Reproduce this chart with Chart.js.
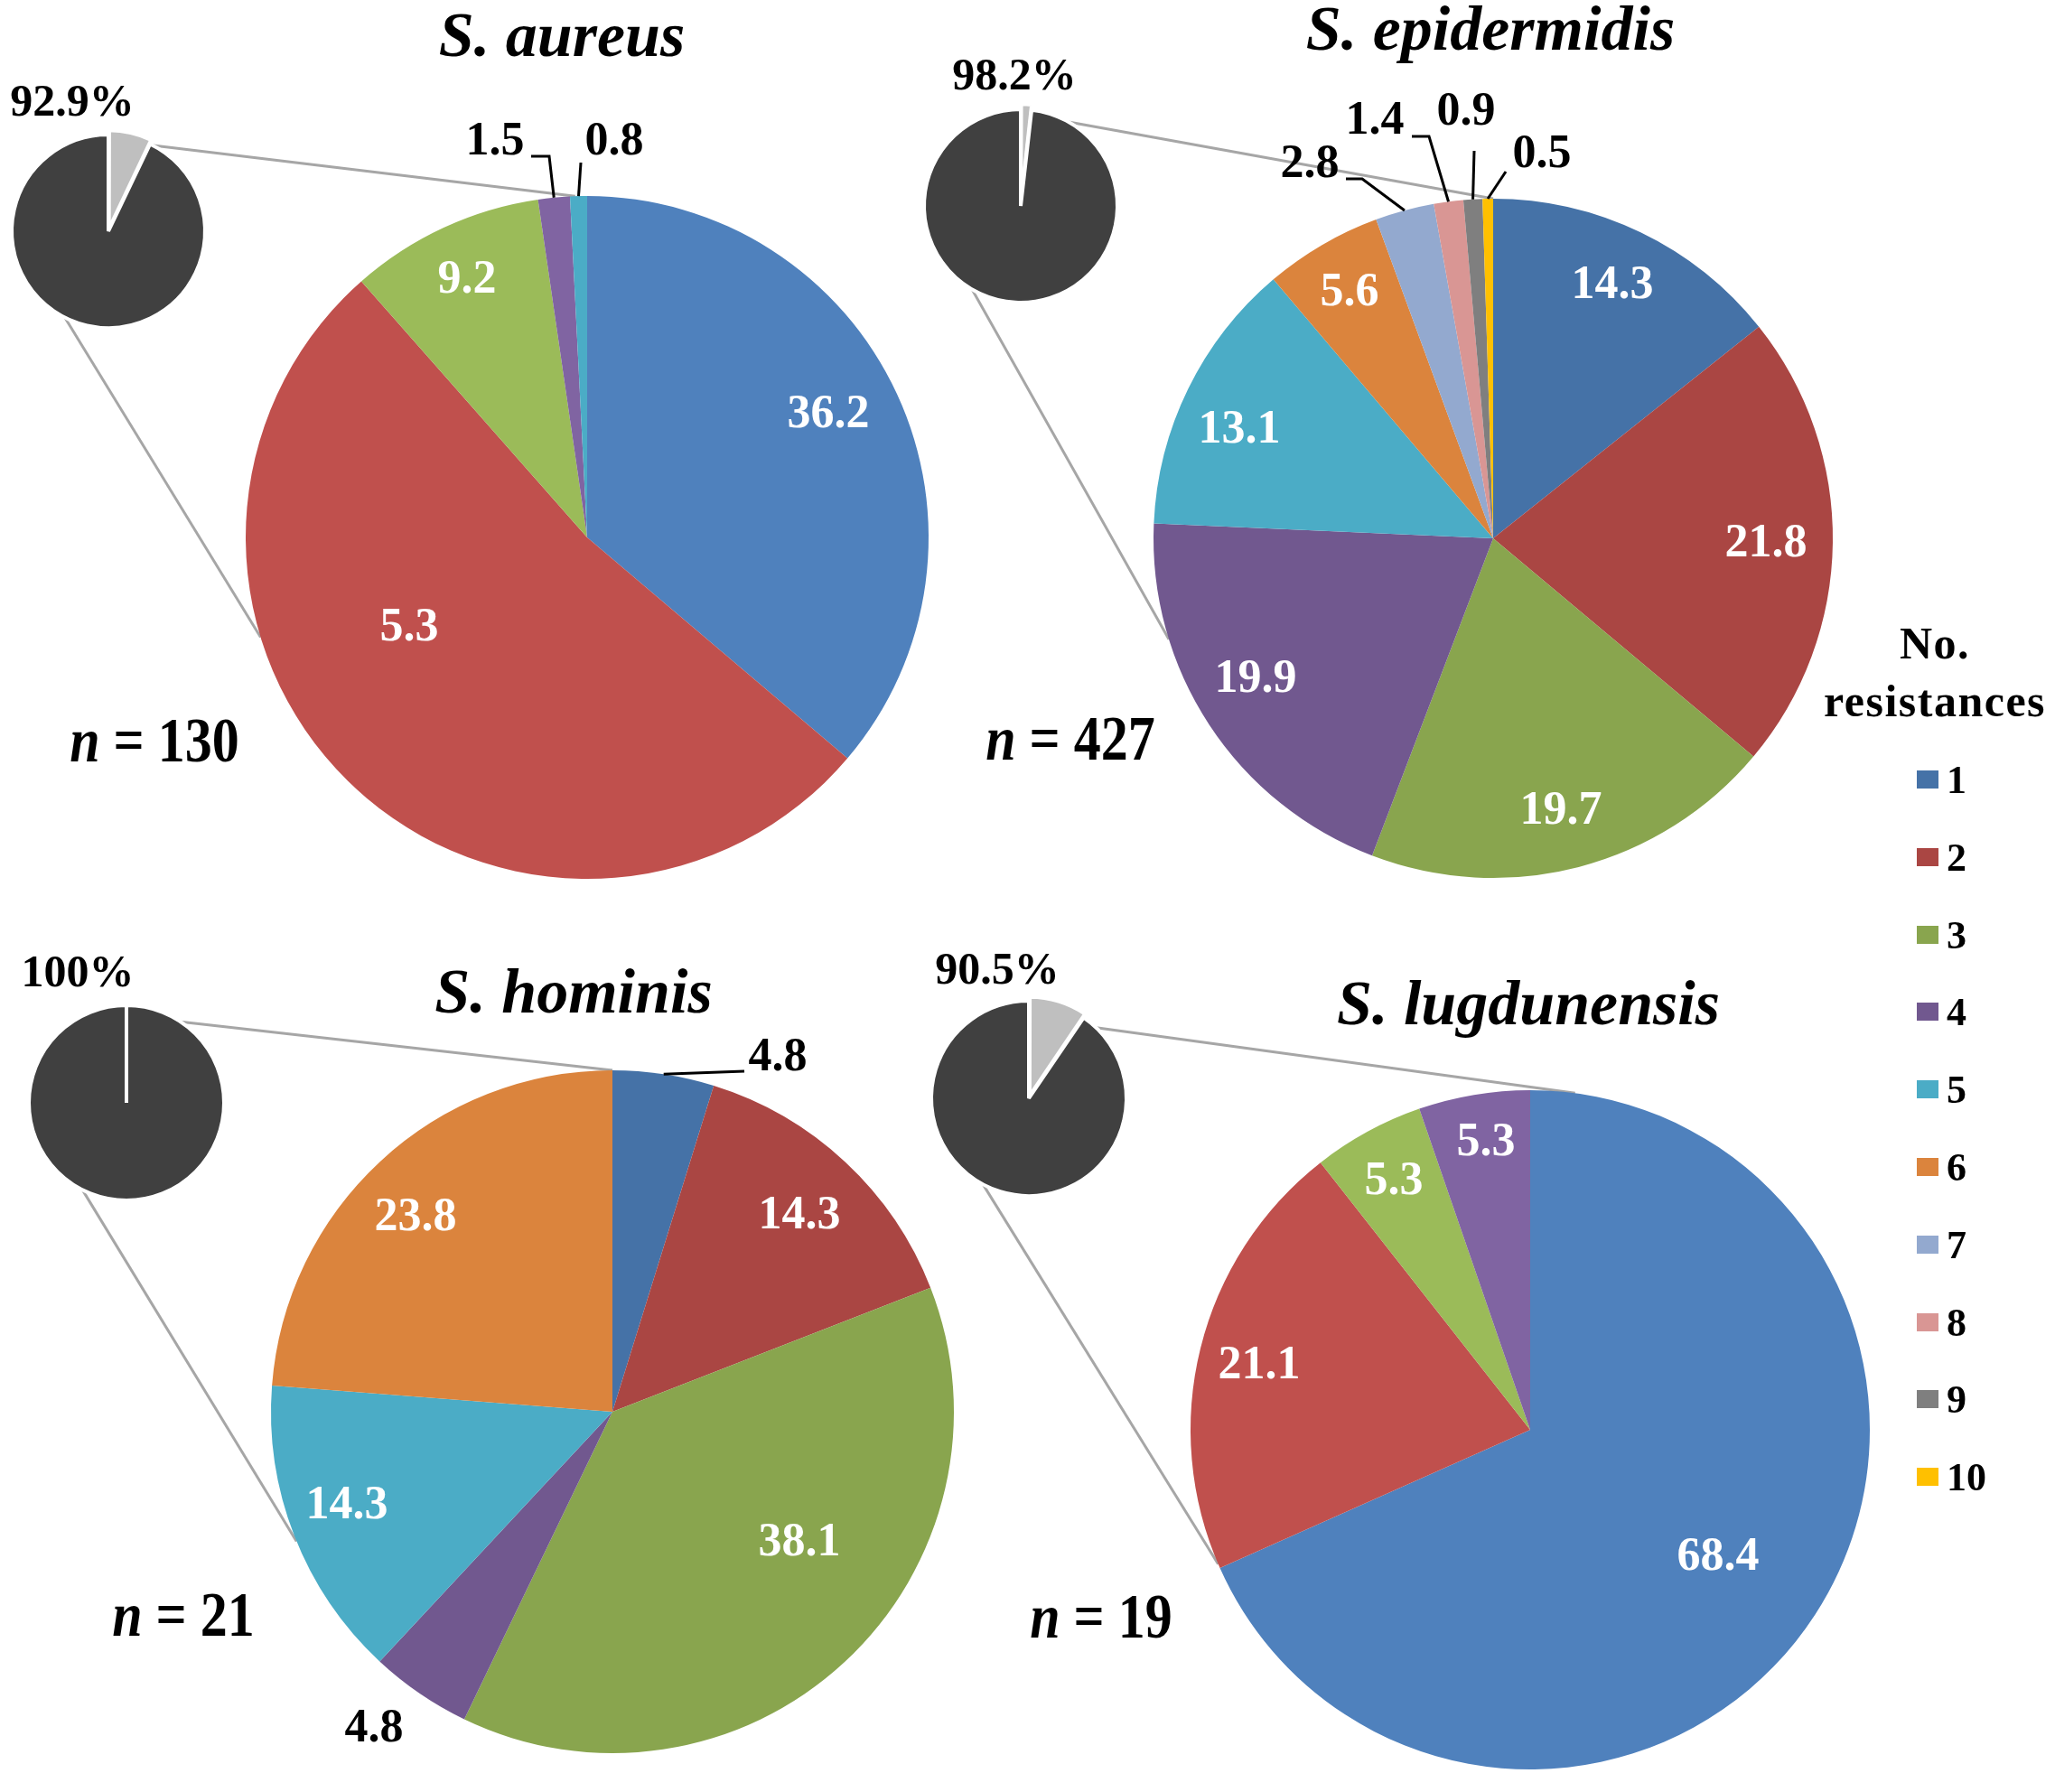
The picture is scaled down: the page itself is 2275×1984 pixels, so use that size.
<!DOCTYPE html>
<html>
<head>
<meta charset="utf-8">
<title>No. resistances per species</title>
<script src="https://cdn.jsdelivr.net/npm/chart.js@4.4.1/dist/chart.umd.min.js"></script>
<style>
  html, body { margin: 0; padding: 0; background: #fff; }
  #page {
    position: relative; width: 2275px; height: 1984px; overflow: hidden; background: #fff;
    font-family: "Liberation Serif", "DejaVu Serif", serif; font-weight: bold; color: #000;
  }
  #page canvas { position: absolute; }
  .txt { position: absolute; white-space: nowrap; line-height: 1; transform: translate(-50%, -50%); }
  .title { font-size: 70px; font-style: italic; }
  .nlab { font-size: 60px; transform: translate(-50%, -50%) scaleY(1.15); }
  .leg-head { font-size: 50px; letter-spacing: 1.5px; }
  .leg-box { position: absolute; width: 24px; height: 20px; }
  .leg-txt { position: absolute; font-size: 44px; line-height: 1; transform: translateY(-50%); }
</style>
</head>
<body>
<div id="page"></div>
<script>
// categories = number of resistances
var categories = ['1', '2', '3', '4', '5', '6', '7', '8', '9', '10'];
var legendColors = ['#4572A7', '#AA4643', '#89A54E', '#71588F', '#4BACC6', '#DB843D', '#93A9CF', '#D99694', '#7F7F7F', '#FFC000'];
var lightColors = ['#4F81BD', '#C0504D', '#9BBB59', '#8064A2', '#4BACC6'];

// % of resistant isolates by number of resistances
var aureusValues = [36.2, 52.3, 9.2, 1.5, 0.8];
var aureusText = ['36.2', '5.3', '9.2', '1.5', '0.8'];   // printed as in the figure
var epiValues = [14.3, 21.8, 19.7, 19.9, 13.1, 5.6, 2.8, 1.4, 0.9, 0.5];
var homValues = [4.8, 14.3, 38.1, 4.8, 14.3, 23.8];
var lugValues = [68.4, 21.1, 5.3, 5.3];

// small pies: [other, resistant]
var aureusInset = [7.1, 92.9];
var epiInset = [1.8, 98.2];
var homInset = [0, 100];
var lugInset = [9.5, 90.5];
var insetColors = ['#BFBFBF', '#404040'];

var FONT = '"Liberation Serif", "DejaVu Serif", serif';
var page = document.getElementById('page');

// label offsets from pie centre (px) and leader elbows
var aureusPos = [[267, -135], [-197, 101], [-133, -284], [-102, -437], [30, -437]];
var aureusLead = { 3: [[-62, -422], [-42, -422]], 4: [[-7, -415]] };
var epiPos = [[132, -279], [302, 7], [75, 303], [-263, 157], [-281, -119], [-159, -271],
              [-203, -413], [-131, -461], [-30, -471], [54, -424]];
var epiLead = { 6: [[-163, -398], [-145, -398]], 7: [[-90, -445], [-71, -445]], 8: [[-21, -429]], 9: [[14, -406]] };
var homPos = [[183, -391], [207, -216], [207, 146], [-264, 352], [-294, 105], [-218, -214]];
var homLead = { 0: [[146, -377]] };
var lugPos = [[208, 142], [-300, -70], [-151, -274], [-49, -317]];

function labelPlugin(texts, pos, leads, size) {
  return {
    id: 'sliceLabels',
    afterDatasetsDraw: function (chart) {
      var ctx = chart.ctx;
      var arcs = chart.getDatasetMeta(0).data;
      var ref = arcs[arcs.length - 1];
      var cx = ref.x, cy = ref.y, r = ref.outerRadius;
      ctx.save();
      ctx.font = 'bold ' + size + 'px ' + FONT;
      ctx.textAlign = 'center';
      ctx.textBaseline = 'middle';
      texts.forEach(function (t, i) {
        if (!t || !pos[i]) return;
        var dx = pos[i][0], dy = pos[i][1];
        var outside = Math.hypot(dx, dy) > r;
        ctx.fillStyle = outside ? '#000' : '#fff';
        ctx.fillText(t, cx + dx, cy + dy);
        if (leads && leads[i]) {
          var a = arcs[i];
          var mid = (a.startAngle + a.endAngle) / 2;
          ctx.beginPath();
          ctx.strokeStyle = '#000';
          ctx.lineWidth = 3;
          leads[i].forEach(function (p, k) {
            if (k === 0) ctx.moveTo(cx + p[0], cy + p[1]); else ctx.lineTo(cx + p[0], cy + p[1]);
          });
          ctx.lineTo(cx + r * Math.cos(mid), cy + r * Math.sin(mid));
          ctx.stroke();
        }
      });
      ctx.restore();
    }
  };
}

function makePie(cx, cy, r, margin, values, colors, border, offsets, plugin) {
  var spacing = border + Math.max.apply(null, offsets);
  var size = Math.round(2 * r + spacing + 2 * margin);
  var cv = document.createElement('canvas');
  cv.width = size;
  cv.height = size;
  cv.style.left = (cx - size / 2) + 'px';
  cv.style.top = (cy - size / 2) + 'px';
  page.appendChild(cv);
  return new Chart(cv, {
    type: 'pie',
    data: {
      labels: categories.slice(0, values.length),
      datasets: [{
        data: values,
        backgroundColor: colors,
        borderColor: '#fff',
        borderWidth: border,
        offset: offsets,
        hoverOffset: 0
      }]
    },
    options: {
      responsive: false,
      animation: false,
      devicePixelRatio: 1,
      events: [],
      layout: { padding: margin },
      plugins: { legend: { display: false }, tooltip: { enabled: false } }
    },
    plugins: [plugin]
  });
}

// connector lines sit under everything
var lines = document.createElement('canvas');
lines.width = 2275;
lines.height = 1984;
lines.style.left = '0px';
lines.style.top = '0px';
page.appendChild(lines);

var m = 130, mi = 70;
var panels = [
  {
    main: makePie(650, 595, 378, m, aureusValues, lightColors, 0, [0], labelPlugin(aureusText, aureusPos, aureusLead, 52)),
    inset: makePie(120, 256, 107, mi, aureusInset, insetColors, 4, [12, 0], labelPlugin(['', '92.9%'], [null, [-40, -141]], null, 50)),
    mc: [650, 595], ic: [120, 256], ang: [27.5, 358, 206.8, 253]
  },
  {
    main: makePie(1653, 596, 376, m, epiValues, legendColors, 0, [0], labelPlugin(epiValues.map(String), epiPos, epiLead, 52)),
    inset: makePie(1130, 228, 107, mi, epiInset, insetColors, 4, [12, 0], labelPlugin(['', '98.2%'], [null, [-7, -142]], null, 50)),
    mc: [1653, 596], ic: [1130, 228], ang: [29.6, 0, 210.2, 252.7]
  },
  {
    main: makePie(678, 1563, 378, m, homValues, legendColors.slice(0, 6), 0, [0], labelPlugin(homValues.map(String), homPos, homLead, 52)),
    inset: makePie(140, 1221, 108, mi, homInset, insetColors, 4, [12, 0], labelPlugin(['', '100%'], [null, [-54, -142]], null, 50)),
    mc: [678, 1563], ic: [140, 1221], ang: [33.7, 0, 206.8, 247.7]
  },
  {
    main: makePie(1694, 1583, 376, m, lugValues, lightColors.slice(0, 4), 0, [0], labelPlugin(lugValues.map(String), lugPos, null, 52)),
    inset: makePie(1139, 1216, 108, mi, lugInset, insetColors, 4, [12, 0], labelPlugin(['', '90.5%'], [null, [-35, -140]], null, 50)),
    mc: [1694, 1583], ic: [1139, 1216], ang: [43.6, 7.6, 208, 246.7]
  }
];

function rim(chart, centre, deg) {
  var arcs = chart.getDatasetMeta(0).data;
  var a = arcs[arcs.length - 1];
  var size = chart.canvas.width;
  // arc centre in page coordinates
  var x0 = centre[0] - size / 2 + a.x, y0 = centre[1] - size / 2 + a.y;
  var t = deg * Math.PI / 180;
  return [x0 + a.outerRadius * Math.sin(t), y0 - a.outerRadius * Math.cos(t)];
}

var lctx = lines.getContext('2d');
lctx.strokeStyle = '#A6A6A6';
lctx.lineWidth = 3;
panels.forEach(function (p) {
  var pairs = [[p.ang[0], p.ang[1]], [p.ang[2], p.ang[3]]];
  pairs.forEach(function (q) {
    var s = rim(p.inset, p.ic, q[0]);
    var e = rim(p.main, p.mc, q[1]);
    lctx.beginPath();
    lctx.moveTo(s[0], s[1]);
    lctx.lineTo(e[0], e[1]);
    lctx.stroke();
  });
});

// text: titles, sample sizes, legend
function addText(cls, x, y, html) {
  var d = document.createElement('div');
  d.className = 'txt ' + cls;
  d.style.left = x + 'px';
  d.style.top = y + 'px';
  d.innerHTML = html;
  page.appendChild(d);
}
addText('title', 622, 39, 'S. aureus');
addText('title', 1650, 32, 'S. epidermidis');
addText('title', 635, 1098, 'S. hominis');
addText('title', 1692, 1111, 'S. lugdunensis');
addText('nlab', 171, 820, '<i>n</i> = 130');
addText('nlab', 1185, 818, '<i>n</i> = 427');
addText('nlab', 203, 1788, '<i>n</i> = 21');
addText('nlab', 1219, 1790, '<i>n</i> = 19');
addText('leg-head', 2142, 712, 'No.');
addText('leg-head', 2142, 776, 'resistances');

categories.forEach(function (c, i) {
  var y = 863 + 85.8 * i;
  var b = document.createElement('div');
  b.className = 'leg-box';
  b.style.left = '2122px';
  b.style.top = (y - 10) + 'px';
  b.style.background = legendColors[i];
  page.appendChild(b);
  var t = document.createElement('div');
  t.className = 'leg-txt';
  t.style.left = '2155px';
  t.style.top = (y + 1) + 'px';
  t.textContent = c;
  page.appendChild(t);
});
</script>
</body>
</html>
